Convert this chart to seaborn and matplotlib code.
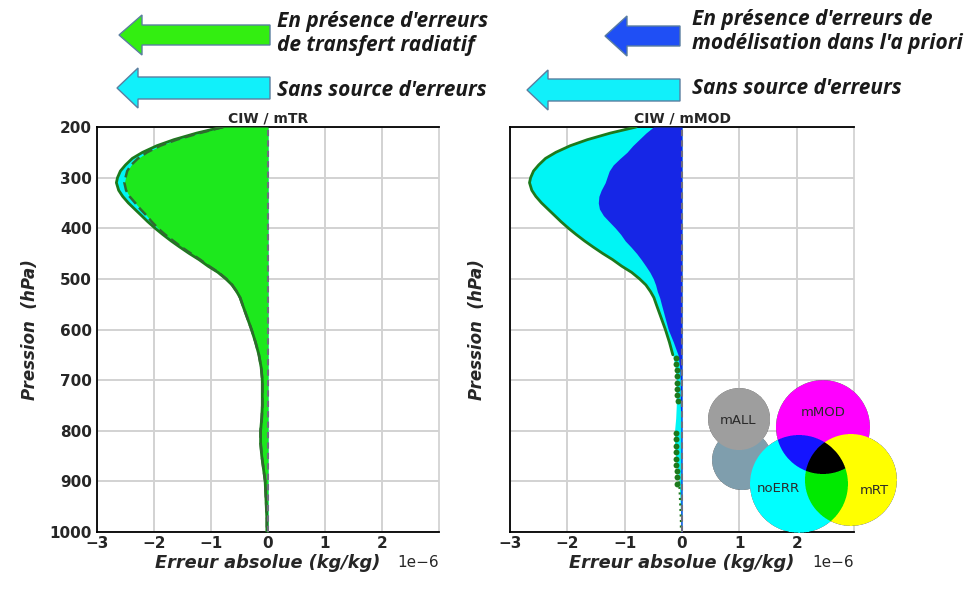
import numpy as np
import pandas as pd
import matplotlib
matplotlib.use("Agg")
import matplotlib.pyplot as plt
from matplotlib.patches import Polygon
import seaborn as sns

# ---------------- data (error in units of 1e-6 kg/kg) ----------------
pressure = [200, 212, 225, 237, 250, 262, 275, 287, 300, 310, 325, 337, 350, 362, 375,
            387, 400, 412, 425, 437, 450, 462, 475, 487, 500, 512, 525, 537, 550, 575,
            600, 625, 650, 675, 700, 725, 750, 775, 800, 825, 850, 875, 900, 925, 950,
            975, 1000]
noERR = [-0.80, -1.25, -1.65, -1.95, -2.20, -2.38, -2.50, -2.59, -2.64, -2.66, -2.62,
         -2.55, -2.45, -2.34, -2.22, -2.11, -1.98, -1.85, -1.70, -1.55, -1.38, -1.21,
         -1.05, -0.88, -0.74, -0.63, -0.55, -0.49, -0.45, -0.37, -0.29, -0.22, -0.16,
         -0.12, -0.10, -0.10, -0.10, -0.11, -0.13, -0.13, -0.11, -0.08, -0.05, -0.04,
         -0.03, -0.02, -0.02]
mTR = [-0.78, -1.20, -1.60, -1.89, -2.12, -2.28, -2.40, -2.47, -2.50, -2.52, -2.49,
       -2.43, -2.33, -2.24, -2.13, -2.04, -1.93, -1.81, -1.66, -1.52, -1.35, -1.19,
       -1.03, -0.87, -0.73, -0.63, -0.55, -0.49, -0.45, -0.37, -0.29, -0.22, -0.16,
       -0.12, -0.10, -0.10, -0.10, -0.11, -0.13, -0.13, -0.11, -0.08, -0.05, -0.04,
       -0.03, -0.02, -0.02]
mMOD = [-0.50, -0.63, -0.75, -0.86, -0.96, -1.08, -1.20, -1.27, -1.31, -1.34, -1.41,
        -1.45, -1.46, -1.44, -1.37, -1.27, -1.16, -1.07, -0.99, -0.89, -0.79, -0.71,
        -0.63, -0.56, -0.50, -0.46, -0.43, -0.39, -0.36, -0.30, -0.24, -0.15, -0.07,
        -0.04, -0.03, -0.03, -0.03, -0.02, -0.02, -0.02, -0.02, -0.02, -0.02, -0.02,
        -0.02, -0.02, -0.02]
dots_p = [656, 668, 680, 692, 705, 717, 730, 742, 805, 817, 830, 842, 855, 867,
          880, 892, 905]
dots_x = [-0.10, -0.10, -0.09, -0.08, -0.09, -0.08, -0.09, -0.07, -0.10, -0.11,
          -0.11, -0.10, -0.10, -0.10, -0.09, -0.08, -0.08]

xticks = [-3, -2, -1, 0, 1, 2]
yticks = [200, 300, 400, 500, 600, 700, 800, 900, 1000]
titles = ["CIW / mTR", "CIW / mMOD"]
xlabel = "Erreur absolue (kg/kg)"
ylabel = "Pression  (hPa)"
SCALE = 1e-6

df = pd.DataFrame({"p": pressure,
                   "noERR": np.array(noERR) * SCALE,
                   "mTR": np.array(mTR) * SCALE,
                   "mMOD": np.array(mMOD) * SCALE})
dots = pd.DataFrame({"p": dots_p, "x": np.array(dots_x) * SCALE})

# ---------------- style ----------------
sns.set_theme(style="whitegrid")
plt.rcParams["font.family"] = ["DejaVu Sans"]

W, H = 967, 594
fig = plt.figure(figsize=(W / 100, H / 100), dpi=100)
fig.patch.set_facecolor("white")

def px_axes(x0, x1, y0, y1):
    return fig.add_axes([x0 / W, 1 - y1 / H, (x1 - x0) / W, (y1 - y0) / H])

ax1 = px_axes(97, 439, 127, 532)
ax2 = px_axes(510, 854, 127, 532)

DKGREEN = "#1c7a1c"
CYAN = "#00f5f5"
GREEN = "#1de81d"
BLUE = "#1626e6"

# left panel
ax1.fill_betweenx(df["p"], df["noERR"], 0, color=CYAN, lw=0, zorder=2)
ax1.fill_betweenx(df["p"], df["mTR"], 0, color=GREEN, lw=0, zorder=3)
sns.lineplot(data=df, x="noERR", y="p", orient="y", sort=False, estimator=None,
             color=DKGREEN, lw=2.0, ax=ax1, zorder=4)
sns.lineplot(data=df, x="mTR", y="p", orient="y", sort=False, estimator=None,
             color="#2f6b2f", lw=1.8, ls=(0, (4, 2)), ax=ax1, zorder=5)

# right panel
ax2.fill_betweenx(df["p"], df["noERR"], 0, color=CYAN, lw=0, zorder=2)
ax2.fill_betweenx(df["p"], df["mMOD"], 0, color=BLUE, lw=0, zorder=3)
sns.lineplot(data=df[df["p"] <= 650], x="noERR", y="p", orient="y", sort=False,
             estimator=None, color=DKGREEN, lw=2.0, ax=ax2, zorder=4)
sns.scatterplot(data=dots, x="x", y="p", color=DKGREEN, s=18, lw=0, ax=ax2, zorder=5)
sns.lineplot(data=df[df["p"] >= 900], x="noERR", y="p", orient="y", sort=False,
             estimator=None, color=DKGREEN, lw=1.5, ls=":", ax=ax2, zorder=4)

for i, ax in enumerate((ax1, ax2)):
    ax.axvline(0, color="#6f6f7f", lw=1.5, ls=(0, (3, 2)), zorder=6)
    ax.set_xlim(-3 * SCALE, 3 * SCALE)
    ax.set_ylim(1000, 200)
    ax.set_xticks([t * SCALE for t in xticks])
    ax.set_yticks(yticks)
    ax.grid(True, color="#d2d2d2", lw=1.4)
    ax.set_axisbelow(True)
    for side in ("left", "bottom", "top"):
        ax.spines[side].set_color("black")
        ax.spines[side].set_linewidth(1.3)
    ax.spines["right"].set_color("#d2d2d2")
    ax.set_title(titles[i], fontsize=10, fontweight="bold", pad=3)
    ax.set_xlabel(xlabel, fontsize=12.8, fontweight="bold", style="italic", labelpad=2)
    ax.tick_params(axis="x", labelsize=11, pad=3, length=0)
    ax.tick_params(axis="y", labelsize=11, length=0)
    for lab in ax.get_xticklabels() + ax.get_yticklabels():
        lab.set_fontweight("bold")
    ax.xaxis.get_offset_text().set_fontsize(11)
    if ax.get_legend():
        ax.get_legend().remove()

ax1.set_ylabel(ylabel, fontsize=12, fontweight="bold", style="italic", labelpad=8)
ax2.set_ylabel(ylabel, fontsize=12, fontweight="bold", style="italic", labelpad=14)
ax2.set_yticklabels([])

# ---------------- overlay: arrows, captions, venn ----------------
ov = fig.add_axes([0, 0, 1, 1], zorder=20)
ov.set_xlim(0, W)
ov.set_ylim(H, 0)
ov.axis("off")
ov.patch.set_visible(False)

def arrow(tip_x, tip_y, head_base, right, bh, hh, color):
    pts = [(tip_x, tip_y), (head_base, tip_y - hh), (head_base, tip_y - bh),
           (right, tip_y - bh), (right, tip_y + bh), (head_base, tip_y + bh),
           (head_base, tip_y + hh)]
    ov.add_patch(Polygon(pts, closed=True, fc=color, ec="#5a7ea0", lw=1.0))

arrow(119, 35, 142, 270, 10, 20, "#33ee11")
arrow(117, 88, 138, 270, 11, 20, "#11f0fa")
arrow(605, 36, 627, 680, 10, 20, "#1f4ff5")
arrow(527, 90, 548, 680, 11, 20, "#11f0fa")

cap = dict(fontsize=15, fontweight="bold", style="italic", va="center", ha="left",
           color="#1a1a1a", family=["Open Sans", "DejaVu Sans"])
ov.text(277, 21, "En présence d'erreurs", **cap)
ov.text(277, 46, "de transfert radiatif", **cap)
ov.text(277, 90, "Sans source d'erreurs", **cap)
ov.text(692, 19, "En présence d'erreurs de", **cap)
ov.text(692, 44, "modélisation dans l'a priori", **cap)
ov.text(692, 89, "Sans source d'erreurs", **cap)

# Venn-like colour key
ss = 4
x0v, x1v, y0v, y1v = 700, 905, 378, 538
xs = np.linspace(x0v, x1v, (x1v - x0v) * ss)
ys = np.linspace(y0v, y1v, (y1v - y0v) * ss)
XX, YY = np.meshgrid(xs, ys)
def disk(cx, cy, r):
    return (XX - cx) ** 2 + (YY - cy) ** 2 <= r * r
slate = disk(742, 460, 30)
gray = disk(739, 419, 31)
yel = disk(851, 480, 46)
mag = disk(823, 427, 47)
cya = disk(799, 484, 49)
img = np.zeros(XX.shape + (4,))
def paint(mask, rgb):
    img[mask, :3] = rgb
    img[mask, 3] = 1
paint(slate, (0.50, 0.62, 0.68))
paint(gray, (0.62, 0.62, 0.62))
paint(mag, (1.0, 0.0, 1.0))
paint(yel, (1.0, 1.0, 0.0))
paint(cya, (0.0, 1.0, 1.0))
paint(cya & mag, (0.08, 0.08, 1.0))
paint(cya & yel, (0.0, 0.92, 0.0))
paint(cya & mag & yel, (0.0, 0.0, 0.0))
img = img.reshape(len(ys) // ss, ss, len(xs) // ss, ss, 4).mean(axis=(1, 3))
ov.imshow(img, extent=(x0v, x1v, y1v, y0v), origin="upper", aspect="auto",
          interpolation="bilinear", zorder=1)
ov.set_xlim(0, W)
ov.set_ylim(H, 0)
vt = dict(fontsize=9.5, ha="center", va="center", color="#2a2a2a", zorder=2)
ov.text(738, 421, "mALL", **vt)
ov.text(823, 412, "mMOD", **vt)
ov.text(778, 488, "noERR", **vt)
ov.text(874, 490, "mRT", **vt)

fig.savefig("out.png", dpi=100)
